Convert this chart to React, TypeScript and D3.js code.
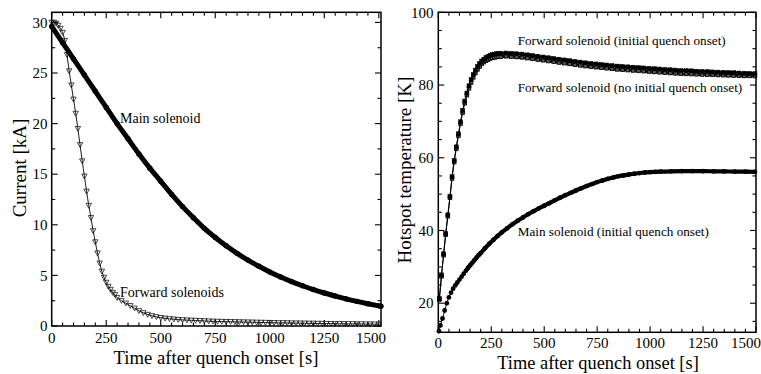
import React from 'react';
import * as d3 from 'd3';

// ---------- DATA ----------
// Left panel: current [kA] vs time [s]
const mainCurrent: [number, number][] = [
  [0, 29.6], [50, 28.0], [100, 26.4], [150, 24.8], [200, 23.2], [250, 21.6], [300, 20.0],
  [350, 18.5], [400, 17.0], [450, 15.6], [500, 14.3], [550, 13.0], [600, 11.8], [650, 10.7],
  [700, 9.65], [750, 8.75], [800, 7.93], [850, 7.18], [900, 6.51], [950, 5.9], [1000, 5.34],
  [1050, 4.84], [1100, 4.39], [1150, 3.98], [1200, 3.6], [1250, 3.26], [1300, 2.96],
  [1350, 2.68], [1400, 2.43], [1450, 2.2], [1500, 1.99], [1510, 1.95],
];

const forwardCurrent: [number, number][] = [
  [0, 30.0], [10, 30.0], [20, 29.9], [30, 29.7], [40, 29.4], [50, 29.0], [60, 28.2], [70, 26.8],
  [80, 25.2], [90, 23.8], [100, 22.4], [110, 21.0], [120, 19.5], [130, 17.9], [140, 16.3],
  [150, 14.8], [160, 13.3], [170, 11.9], [180, 10.7], [190, 9.4], [200, 8.3], [210, 7.2],
  [220, 6.2], [230, 5.4], [240, 4.8], [250, 4.3], [260, 3.9], [270, 3.6], [280, 3.3],
  [290, 3.1], [300, 2.8], [320, 2.5], [340, 2.25], [360, 2.0], [380, 1.75], [400, 1.5],
  [420, 1.3], [440, 1.13], [460, 1.0], [480, 0.9], [500, 0.82], [520, 0.76], [540, 0.71],
  [560, 0.67], [580, 0.63], [600, 0.6], [620, 0.58], [640, 0.56], [660, 0.54], [680, 0.52],
  [700, 0.5], [720, 0.48], [740, 0.46], [760, 0.45], [780, 0.44], [800, 0.43], [820, 0.42],
  [840, 0.41], [860, 0.4], [880, 0.39], [900, 0.38], [920, 0.37], [940, 0.36], [960, 0.35],
  [980, 0.34], [1000, 0.33], [1020, 0.32], [1040, 0.31], [1060, 0.31], [1080, 0.3],
  [1100, 0.29], [1120, 0.28], [1140, 0.28], [1160, 0.27], [1180, 0.26], [1200, 0.26],
  [1220, 0.25], [1240, 0.24], [1260, 0.24], [1280, 0.23], [1300, 0.23], [1320, 0.22],
  [1340, 0.22], [1360, 0.21], [1380, 0.21], [1400, 0.2], [1420, 0.2], [1440, 0.19],
  [1460, 0.19], [1480, 0.18], [1500, 0.18],
];

// Right panel: hotspot temperature [K] vs time [s]
const fwdTempInitial: [number, number][] = [
  [5, 21.3], [15, 27.8], [25, 33.6], [35, 39.2], [45, 44.3], [55, 49.4], [65, 54.8], [75, 59.3],
  [85, 63.0], [95, 66.6], [105, 69.9], [115, 73.0], [125, 75.6], [135, 77.8], [145, 79.8],
  [155, 81.5], [165, 82.9], [175, 84.1], [185, 85.1], [195, 85.9], [205, 86.6], [215, 87.1],
  [225, 87.6], [235, 87.9], [245, 88.2], [255, 88.4], [265, 88.5], [275, 88.6], [285, 88.7],
  [295, 88.7], [320, 88.8], [345, 88.7], [370, 88.6], [395, 88.5], [420, 88.3], [445, 88.1],
  [470, 87.9], [495, 87.7], [520, 87.5], [545, 87.3], [570, 87.1], [595, 86.9], [620, 86.7],
  [645, 86.5], [670, 86.3], [695, 86.1], [720, 85.95], [745, 85.8], [770, 85.65], [795, 85.5],
  [820, 85.35], [845, 85.2], [870, 85.1], [895, 85.0], [920, 84.9], [945, 84.8], [970, 84.7],
  [995, 84.6], [1020, 84.5], [1045, 84.4], [1070, 84.3], [1095, 84.2], [1120, 84.1],
  [1145, 84.0], [1170, 83.95], [1195, 83.9], [1220, 83.8], [1245, 83.75], [1270, 83.7],
  [1295, 83.6], [1320, 83.55], [1345, 83.5], [1370, 83.45], [1395, 83.4], [1420, 83.3],
  [1445, 83.25], [1470, 83.2], [1495, 83.15],
];

const fwdTempNoInitial: [number, number][] = [
  [5, 21.0], [15, 27.4], [25, 33.2], [35, 38.8], [45, 43.9], [55, 49.0], [65, 54.3], [75, 58.8],
  [85, 62.5], [95, 66.1], [105, 69.4], [115, 72.4], [125, 75.0], [135, 77.2], [145, 79.1],
  [155, 80.7], [165, 82.1], [175, 83.3], [185, 84.3], [195, 85.1], [205, 85.8], [215, 86.3],
  [225, 86.7], [235, 87.0], [245, 87.3], [255, 87.5], [265, 87.6], [275, 87.7], [285, 87.8],
  [295, 87.8], [320, 87.9], [345, 87.8], [370, 87.7], [395, 87.6], [420, 87.4], [445, 87.2],
  [470, 87.0], [495, 86.8], [520, 86.6], [545, 86.4], [570, 86.2], [595, 86.0], [620, 85.8],
  [645, 85.6], [670, 85.4], [695, 85.2], [720, 85.05], [745, 84.9], [770, 84.75], [795, 84.6],
  [820, 84.45], [845, 84.3], [870, 84.2], [895, 84.1], [920, 84.0], [945, 83.9], [970, 83.8],
  [995, 83.7], [1020, 83.6], [1045, 83.5], [1070, 83.4], [1095, 83.3], [1120, 83.2],
  [1145, 83.1], [1170, 83.05], [1195, 83.0], [1220, 82.95], [1245, 82.9], [1270, 82.85],
  [1295, 82.8], [1320, 82.75], [1345, 82.7], [1370, 82.65], [1395, 82.6], [1420, 82.55],
  [1445, 82.5], [1470, 82.5], [1495, 82.45],
];

const mainTemp: [number, number][] = [
  [3, 12.3], [10, 13.9], [20, 15.8], [30, 18.0], [40, 20.0], [50, 21.6], [60, 22.9], [70, 24.0],
  [80, 24.9], [90, 25.7], [100, 26.5], [110, 27.3], [120, 28.1], [130, 28.9], [140, 29.7],
  [150, 30.4], [160, 31.1], [170, 31.8], [180, 32.5], [190, 33.2], [200, 33.8], [220, 35.1],
  [240, 36.3], [260, 37.4], [280, 38.5], [300, 39.5], [325, 40.6], [350, 41.7], [375, 42.7],
  [400, 43.6], [425, 44.5], [450, 45.3], [475, 46.1], [500, 46.8], [525, 47.55], [550, 48.3],
  [575, 49.0], [600, 49.7], [625, 50.35], [650, 51.0], [675, 51.6], [700, 52.2], [725, 52.75],
  [750, 53.3], [775, 53.75], [800, 54.2], [825, 54.55], [850, 54.9], [875, 55.15], [900, 55.4],
  [925, 55.6], [950, 55.8], [975, 55.95], [1000, 56.05], [1025, 56.13], [1050, 56.2],
  [1100, 56.28], [1150, 56.32], [1200, 56.33], [1250, 56.32], [1300, 56.28], [1350, 56.24],
  [1400, 56.2], [1450, 56.16], [1495, 56.12],
];

// Ticks
const xMajorTicks = [0, 250, 500, 750, 1000, 1250, 1500];
const leftYMajor = [0, 5, 10, 15, 20, 25, 30];
const rightYMajor = [20, 40, 60, 80, 100];

// ---------- HELPERS ----------
const FONT = '"Liberation Serif", "Times New Roman", serif';

type Scale = d3.ScaleLinear<number, number>;

function Frame({ x, y, xMinorStep, yMinorStep, yMajor }: { x: Scale; y: Scale; xMinorStep: number; yMinorStep: number; yMajor: number[] }) {
  const [x0, x1] = x.range();
  const [y0, y1] = y.range();
  const [dx0, dx1] = x.domain();
  const [dy0, dy1] = y.domain();
  const xMinor = d3.range(0, dx1 + 0.001, xMinorStep).filter((v) => v >= dx0);
  const yMinor = d3.range(Math.ceil(dy0 / yMinorStep) * yMinorStep, dy1 + 0.001, yMinorStep);
  const isXMajor = (v: number) => Math.abs(v % 250) < 1e-6;
  const isYMajor = (v: number) => yMajor.some((m) => Math.abs(m - v) < 1e-6);
  const lines: any[] = [];
  xMinor.forEach((v, i) => {
    const L = isXMajor(v) ? 6 : 3.5;
    const px = x(v);
    lines.push(<line key={'xb' + i} x1={px} x2={px} y1={y0} y2={y0 - L} />);
    lines.push(<line key={'xt' + i} x1={px} x2={px} y1={y1} y2={y1 + L} />);
  });
  yMinor.forEach((v, i) => {
    const L = isYMajor(v) ? 6 : 3.5;
    const py = y(v);
    lines.push(<line key={'yl' + i} x1={x0} x2={x0 + L} y1={py} y2={py} />);
    lines.push(<line key={'yr' + i} x1={x1} x2={x1 - L} y1={py} y2={py} />);
  });
  return (
    <g stroke="#000" strokeWidth={1.1} fill="none">
      {lines}
      <rect x={x0} y={y1} width={x1 - x0} height={y0 - y1} strokeWidth={1.5} />
    </g>
  );
}

function XLabels({ x, baseline }: { x: Scale; baseline: number }) {
  const [, r1] = x.range();
  return (
    <g fontFamily={FONT} fontSize={15} fill="#000" textAnchor="middle">
      {xMajorTicks.map((v) => (
        <text key={v} x={Math.min(x(v), r1 - 10)} y={baseline}>
          {v}
        </text>
      ))}
    </g>
  );
}

function YLabels({ x, y, ticks }: { x: number; y: Scale; ticks: number[] }) {
  return (
    <g fontFamily={FONT} fontSize={15} fill="#000" textAnchor="end">
      {ticks.map((v) => (
        <text key={v} x={x} y={y(v)} dy="0.35em">
          {v}
        </text>
      ))}
    </g>
  );
}

export default function App() {
  const lx = d3.scaleLinear().domain([0, 1510]).range([51.7, 381]);
  const ly = d3.scaleLinear().domain([0, 31]).range([326, 12.3]);
  const rx = d3.scaleLinear().domain([0, 1500]).range([438.3, 756]);
  const ry = d3.scaleLinear().domain([12, 100]).range([332.3, 12.3]);

  const lineL = d3.line<[number, number]>().x((d) => lx(d[0])).y((d) => ly(d[1])).curve(d3.curveMonotoneX);
  const lineR = d3.line<[number, number]>().x((d) => rx(d[0])).y((d) => ry(d[1])).curve(d3.curveMonotoneX);

  const tri = (cx: number, cy: number) => `M${cx - 2.7},${cy - 2.2}L${cx + 2.7},${cy - 2.2}L${cx},${cy + 2.7}Z`;

  return (
    <svg width={761} height={374} style={{ position: 'absolute', left: 0, top: 0, background: '#fff' }}>
      <rect width={761} height={374} fill="#fff" />

      {/* ---------- LEFT PANEL ---------- */}
      <g>
        <path d={lineL(mainCurrent) || ''} fill="none" stroke="#000" strokeWidth={5} />
        {mainCurrent.map((d, i) => (
          <circle key={'mc' + i} cx={lx(d[0])} cy={ly(d[1])} r={2.7} fill="#000" />
        ))}
        <path d={lineL(forwardCurrent) || ''} fill="none" stroke="#000" strokeWidth={0.9} />
        {forwardCurrent.map((d, i) => (
          <path key={'fc' + i} d={tri(lx(d[0]), ly(d[1]))} fill="none" stroke="#111" strokeWidth={0.75} />
        ))}
        <Frame x={lx} y={ly} xMinorStep={50} yMinorStep={2.5} yMajor={leftYMajor} />
        <XLabels x={lx} baseline={343} />
        <YLabels x={47.5} y={ly} ticks={leftYMajor} />
        <g fontFamily={FONT} fontSize={14} fill="#000">
          <text x={120} y={123}>Main solenoid</text>
          <text x={120} y={296.5}>Forward solenoids</text>
        </g>
        <text x={216} y={364} fontFamily={FONT} fontSize={18.7} textAnchor="middle">
          Time after quench onset [s]
        </text>
        <text transform="translate(26,168) rotate(-90)" fontFamily={FONT} fontSize={19} textAnchor="middle">
          Current [kA]
        </text>
      </g>

      {/* ---------- RIGHT PANEL ---------- */}
      <g>
        <path d={lineR(mainTemp) || ''} fill="none" stroke="#000" strokeWidth={1} />
        <path d={lineR(mainTemp.filter((d) => d[0] >= 130)) || ''} fill="none" stroke="#000" strokeWidth={4.2} />
        {mainTemp.map((d, i) => (
          <circle key={'mt' + i} cx={rx(d[0])} cy={ry(d[1])} r={2.4} fill="#000" />
        ))}
        <path d={lineR(fwdTempNoInitial) || ''} fill="none" stroke="#000" strokeWidth={1} />
        <path d={lineR(fwdTempNoInitial.filter((d) => d[0] >= 180)) || ''} fill="none" stroke="#111" strokeWidth={3} />
        {fwdTempNoInitial.map((d, i) => (
          <rect key={'fn' + i} x={rx(d[0]) - 1.8} y={ry(d[1]) - 1.8} width={3.6} height={3.6} fill="#555" stroke="#000" strokeWidth={0.8} />
        ))}
        <path d={lineR(fwdTempInitial) || ''} fill="none" stroke="#000" strokeWidth={1} />
        <path d={lineR(fwdTempInitial.filter((d) => d[0] >= 180)) || ''} fill="none" stroke="#000" strokeWidth={3} />
        {fwdTempInitial.map((d, i) => (
          <rect key={'fi' + i} x={rx(d[0]) - 2} y={ry(d[1]) - 2} width={4} height={4} fill="#000" stroke="#000" strokeWidth={0.5} />
        ))}
        <Frame x={rx} y={ry} xMinorStep={50} yMinorStep={5} yMajor={rightYMajor} />
        <XLabels x={rx} baseline={348} />
        <YLabels x={433.5} y={ry} ticks={rightYMajor} />
        <g fontFamily={FONT} fontSize={13.2} fill="#000">
          <text x={517.7} y={45}>Forward solenoid (initial quench onset)</text>
          <text x={517.7} y={91.5}>Forward solenoid (no initial quench onset)</text>
          <text x={517.7} y={236}>Main solenoid (initial quench onset)</text>
        </g>
        <text x={598} y={369} fontFamily={FONT} fontSize={18.4} textAnchor="middle">
          Time after quench onset [s]
        </text>
        <text transform="translate(411,170) rotate(-90)" fontFamily={FONT} fontSize={19} textAnchor="middle">
          Hotspot temperature [K]
        </text>
      </g>
    </svg>
  );
}
